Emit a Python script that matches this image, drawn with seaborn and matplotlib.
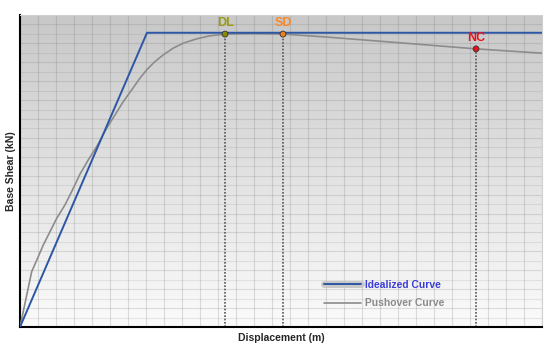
import numpy as np
import pandas as pd
import matplotlib
matplotlib.use("Agg")
import matplotlib.pyplot as plt
import matplotlib.patheffects as pe
from matplotlib.lines import Line2D
import seaborn as sns

# ---- data ----
ideal_disp = [0.0, 0.1411, 0.58]
ideal_shear = [0, 1556, 1556]

push_disp = [0.0, 0.0130, 0.0203, 0.0259, 0.0333, 0.0408, 0.0500, 0.0574, 0.0667,
             0.0759, 0.0852, 0.0963, 0.1056, 0.1148, 0.1241, 0.1333, 0.1408,
             0.1500, 0.1592, 0.1703, 0.1814, 0.1963, 0.2111, 0.2278, 0.2556,
             0.2922, 0.3389, 0.4222, 0.5067, 0.58]
push_shear = [0, 293, 372, 434, 504, 575, 646, 716, 809,
              884, 954, 1051, 1122, 1192, 1254, 1316, 1360,
              1404, 1439, 1475, 1501, 1524, 1540, 1549, 1551,
              1549, 1534, 1503, 1471, 1448]

pt_labels = ["DL", "SD", "NC"]
pt_disp = [0.2278, 0.2922, 0.5067]
pt_shear = [1549, 1549, 1471]
pt_colors = ["#8c8c00", "#f07d1e", "#e3131b"]
pt_text_colors = ["#9a9a14", "#f7892d", "#e8141c"]

x_max = 0.58
y_max = 1650

sns.set_theme(style="white")
plt.rcParams['font.family'] = ['Liberation Sans', 'DejaVu Sans']

fig = plt.figure(figsize=(5.5, 3.5), dpi=100)
ax = fig.add_axes([20/550, 23/350, 522/550, 312/350])

# gradient background
grad = np.linspace(0, 1, 256).reshape(-1, 1)
cmap = matplotlib.colors.LinearSegmentedColormap.from_list("bg", ["#c8c8c8", "#fbfbfb"])
ax.imshow(grad, extent=[0, 1, 0, 1], transform=ax.transAxes, aspect="auto",
          cmap=cmap, origin="upper", zorder=0)

# grid
for gx in np.arange(0, x_max + 1e-9, 0.02):
    ax.axvline(gx, color="#707070", alpha=0.22, lw=0.8, zorder=1)
for i, gy in enumerate(np.arange(0, y_max + 1e-9, 50)):
    ax.axhline(gy, color="#707070", alpha=0.14 if i % 2 else 0.2, lw=0.8, zorder=1)

df_ideal = pd.DataFrame({"d": ideal_disp, "v": ideal_shear})
df_push = pd.DataFrame({"d": push_disp, "v": push_shear})

sns.lineplot(data=df_push, x="d", y="v", ax=ax, color="#8c8c8c", lw=1.2,
             sort=False, zorder=3, legend=False)
sns.lineplot(data=df_ideal, x="d", y="v", ax=ax, color="#2d56a6", lw=1.4,
             sort=False, zorder=4, legend=False)

for lab, xd, yd, c, tc in zip(pt_labels, pt_disp, pt_shear, pt_colors, pt_text_colors):
    ax.plot([xd, xd], [0, yd], color="#555555", lw=1.2, ls=(0, (1, 1)), zorder=2)
    ax.annotate(lab, (xd, yd), xytext=(0, 3.5), textcoords="offset points",
                ha="center", va="bottom", fontsize=9, fontweight="bold", color=tc, zorder=6)

df_pts = pd.DataFrame({"d": pt_disp, "v": pt_shear, "lab": pt_labels})
sns.scatterplot(data=df_pts, x="d", y="v", hue="lab", palette=dict(zip(pt_labels, pt_colors)),
                s=18, edgecolor="#333333", linewidth=0.6, ax=ax, zorder=5, legend=False)

ax.set_xlim(0, x_max)
ax.set_ylim(0, y_max)
ax.set_xticks([])
ax.set_yticks([])
ax.set_xlabel("Displacement (m)", fontsize=7.5, fontweight="bold", labelpad=4)
ax.set_ylabel("Base Shear (kN)", fontsize=7.5, fontweight="bold", labelpad=3)

for s in ["left", "bottom"]:
    ax.spines[s].set_color("black")
    ax.spines[s].set_linewidth(1.5)
for s in ["top", "right"]:
    ax.spines[s].set_color("#d0d0d0")
    ax.spines[s].set_linewidth(0.8)

h1 = Line2D([], [], color="#2d56a6", lw=1.4,
            path_effects=[pe.Stroke(linewidth=5, foreground="#c8c8c8"), pe.Normal()])
h2 = Line2D([], [], color="#8c8c8c", lw=1.2)
leg = ax.legend([h1, h2], ["Idealized Curve", "Pushover Curve"], loc="center",
                bbox_to_anchor=(0.698, 0.106), frameon=False, fontsize=7.4,
                handlelength=3.6, handletextpad=0.45, labelspacing=0.85, borderpad=0)
for t, c in zip(leg.get_texts(), ["#3b3bd8", "#8a8a8a"]):
    t.set_color(c)
    t.set_fontweight("bold")

fig.savefig("out.png", dpi=100)
